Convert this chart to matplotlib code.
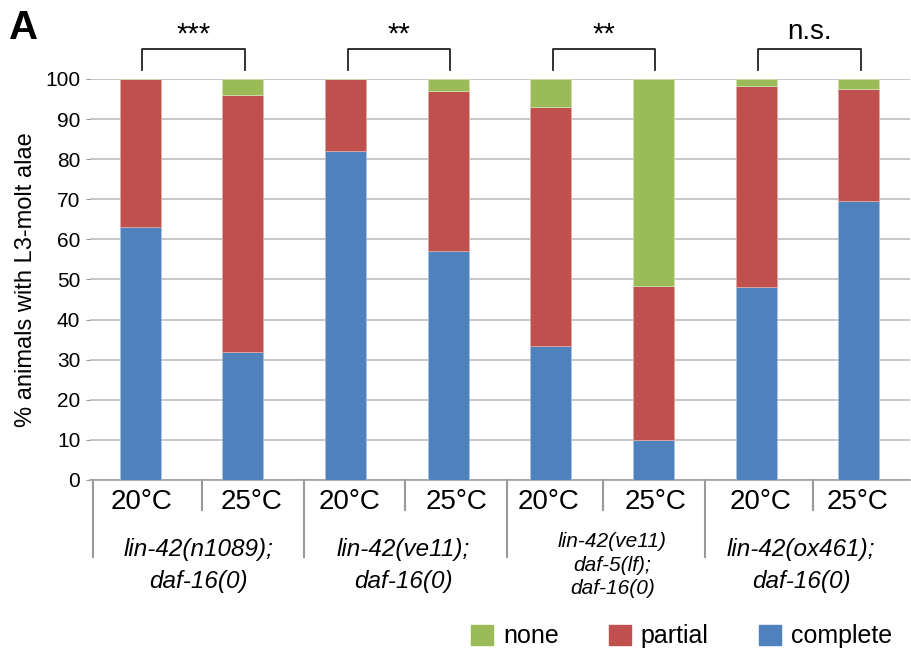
import matplotlib
matplotlib.use('Agg')
import matplotlib.pyplot as plt
import matplotlib.transforms as mtransforms
from matplotlib.patches import Patch

plt.rcParams['font.family'] = ['Liberation Sans', 'DejaVu Sans']

# bars: 4 strains x (20C, 25C)
temps = ['20°C', '25°C', '20°C', '25°C', '20°C', '25°C', '20°C', '25°C']
complete = [63, 32, 82, 57, 33.4, 10, 48.1, 69.5]
partial = [37, 64, 18, 40, 59.5, 38.4, 50.2, 27.9]
none = [0, 4, 0, 3, 7.1, 51.6, 1.7, 2.6]

strains = ['lin-42(n1089);\ndaf-16(0)', 'lin-42(ve11);\ndaf-16(0)',
           'lin-42(ve11)\ndaf-5(lf);\ndaf-16(0)', 'lin-42(ox461);\ndaf-16(0)']
signif = ['***', '**', '**', 'n.s.']

c_none = '#9BBB59'
c_partial = '#C0504D'
c_complete = '#4F81BD'

fig = plt.figure(figsize=(9.11, 6.56), dpi=100)
ax = fig.add_axes([0.0988, 0.2683, 0.9001, 0.6113])

x = list(range(len(temps)))
w = 0.4
ax.bar(x, complete, w, color=c_complete, edgecolor='#a9c2e0', linewidth=0.6, zorder=3)
ax.bar(x, partial, w, bottom=complete, color=c_partial, edgecolor='#e0a8a6',
       linewidth=0.6, zorder=3)
bot2 = [a + b for a, b in zip(complete, partial)]
ax.bar(x, none, w, bottom=bot2, color=c_none, edgecolor='#cfe0ad', linewidth=0.6, zorder=3)

ax.set_xlim(-0.49, 7.5)
ax.set_ylim(0, 100)
ax.set_yticks(range(0, 101, 10))
ax.tick_params(axis='y', labelsize=15, length=3, color='#999999', pad=4)
ax.set_xticks([])
ax.yaxis.grid(True, color='#bdbdbd', linewidth=1.2, zorder=0)
for s in ['top', 'right', 'left']:
    ax.spines[s].set_visible(False)
ax.spines['bottom'].set_color('#a0a0a0')
ax.spines['bottom'].set_linewidth(1.2)
ax.set_ylabel('% animals with L3-molt alae', fontsize=17, labelpad=6)

trans = mtransforms.blended_transform_factory(ax.transData, ax.transAxes)

# category separators under the axis
long_sep = [-0.46, 1.6, 3.57, 5.5]
short_sep = [0.6, 2.58, 4.51, 6.55]
for p in long_sep:
    ax.plot([p, p], [0, -0.192], transform=trans, color='#999999', lw=1.5, clip_on=False)
for p in short_sep:
    ax.plot([p, p], [0, -0.075], transform=trans, color='#999999', lw=1.5, clip_on=False)

temp_pos = [0.01, 1.08, 2.04, 3.08, 3.98, 5.02, 6.04, 6.99]
for p, t in zip(temp_pos, temps):
    ax.text(p, -0.055, t, transform=trans, ha='center', va='center', fontsize=20)

strain_pos = [0.57, 2.56, 4.6, 6.44]
for i, (p, s) in enumerate(zip(strain_pos, strains)):
    if i == 2:
        ax.text(p, -0.212, s, transform=trans, ha='center', va='center', fontsize=15,
                style='italic', linespacing=1.3)
    else:
        ax.text(p, -0.212, s, transform=trans, ha='center', va='center', fontsize=17.5,
                style='italic', linespacing=1.5)

# significance brackets
for i, lab in enumerate(signif):
    x0 = 2 * i + 0.02
    x1 = 2 * i + 1.02
    ax.plot([x0, x0, x1, x1], [102.2, 107.5, 107.5, 102.2], color='#222222',
            lw=1.3, clip_on=False)
    if lab == 'n.s.':
        ax.text((x0 + x1) / 2, 108.5, lab, ha='center', va='bottom', fontsize=20)
    else:
        ax.text((x0 + x1) / 2, 107.6, lab, ha='center', va='bottom', fontsize=21)

fig.text(0.010, 0.958, 'A', fontsize=29, fontweight='bold', ha='left', va='center')

handles = [Patch(color=c_none, label='none'),
           Patch(color=c_partial, label='partial'),
           Patch(color=c_complete, label='complete')]
fig.legend(handles=handles, loc='center right', bbox_to_anchor=(0.99, 0.03), ncol=3,
           frameon=False, fontsize=18, handlelength=0.88, handleheight=0.85,
           handletextpad=0.4, columnspacing=2.0, borderaxespad=0)

fig.savefig('out.png', dpi=100)
